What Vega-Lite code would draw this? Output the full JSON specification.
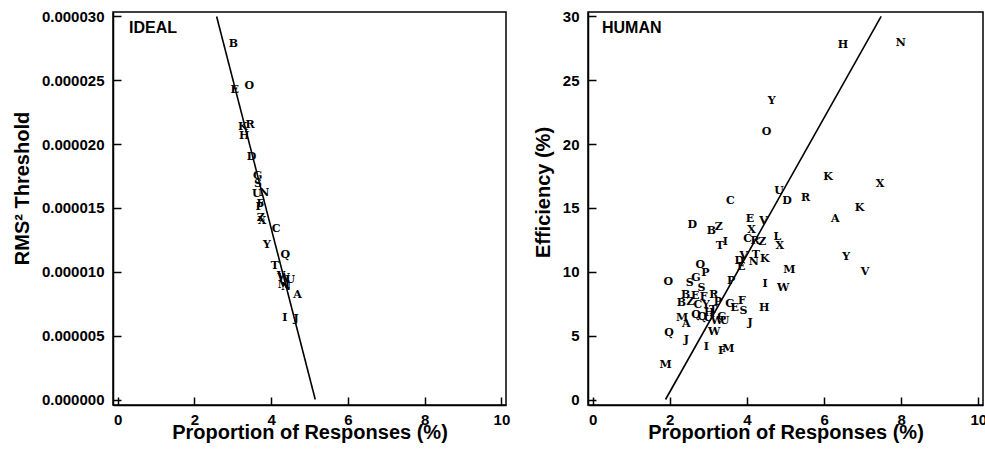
{
  "$schema": "https://vega.github.io/schema/vega-lite/v6.json",
  "background": "white",
  "padding": {"left": 11, "top": 8, "right": 0, "bottom": 5},
  "spacing": 21,
  "config": {
    "font": "Liberation Sans",
    "view": {"stroke": "black", "strokeWidth": 1.5},
    "axis": {
      "grid": false,
      "domainColor": "black",
      "domainWidth": 1.5,
      "tickColor": "black",
      "tickWidth": 1.5,
      "tickSize": -8,
      "labelFont": "Liberation Sans",
      "labelFontWeight": "bold",
      "labelFontSize": 15,
      "labelColor": "black",
      "labelPadding": 17,
      "labelFlush": false,
      "labelOverlap": false,
      "titleFont": "Liberation Sans",
      "titleFontSize": 20,
      "titleFontWeight": "bold",
      "titleColor": "black"
    },
    "axisX": {"titlePadding": -5, "labelPadding": 15},
    "axisY": {"titlePadding": 9}
  },
  "datasets": {
    "ideal": [
      {"letter": "B", "prop": 3.02, "rms": 0.00002785},
      {"letter": "O", "prop": 3.43, "rms": 0.00002459},
      {"letter": "E", "prop": 3.05, "rms": 0.00002425},
      {"letter": "R", "prop": 3.45, "rms": 0.00002151},
      {"letter": "K", "prop": 3.26, "rms": 0.00002133},
      {"letter": "H", "prop": 3.30, "rms": 0.00002067},
      {"letter": "D", "prop": 3.49, "rms": 0.00001897},
      {"letter": "G", "prop": 3.65, "rms": 0.00001754},
      {"letter": "S", "prop": 3.66, "rms": 0.00001689},
      {"letter": "U", "prop": 3.63, "rms": 0.00001611},
      {"letter": "N", "prop": 3.82, "rms": 0.00001616},
      {"letter": "F", "prop": 3.72, "rms": 0.00001532},
      {"letter": "P", "prop": 3.70, "rms": 0.00001511},
      {"letter": "Z", "prop": 3.73, "rms": 0.00001423},
      {"letter": "X", "prop": 3.76, "rms": 0.00001402},
      {"letter": "C", "prop": 4.13, "rms": 0.00001337},
      {"letter": "Y", "prop": 3.89, "rms": 0.00001214},
      {"letter": "Q", "prop": 4.37, "rms": 0.00001133},
      {"letter": "T", "prop": 4.10, "rms": 0.00001047},
      {"letter": "V", "prop": 4.26, "rms": 0.00000971},
      {"letter": "W", "prop": 4.32, "rms": 0.00000953},
      {"letter": "U", "prop": 4.50, "rms": 0.00000937},
      {"letter": "M", "prop": 4.33, "rms": 0.00000893},
      {"letter": "N", "prop": 4.39, "rms": 0.00000880},
      {"letter": "A", "prop": 4.69, "rms": 0.00000820},
      {"letter": "I", "prop": 4.36, "rms": 0.00000637},
      {"letter": "J", "prop": 4.65, "rms": 0.00000632}
    ],
    "idealLine": [
      {"prop": 2.58, "rms": 0.00003},
      {"prop": 5.15, "rms": 0.0}
    ],
    "human": [
      {"letter": "H", "prop": 6.49, "eff": 27.78},
      {"letter": "N", "prop": 7.99, "eff": 27.90},
      {"letter": "Y", "prop": 4.64, "eff": 23.39},
      {"letter": "O", "prop": 4.51, "eff": 20.93},
      {"letter": "K", "prop": 6.10, "eff": 17.41},
      {"letter": "X", "prop": 7.45, "eff": 16.86},
      {"letter": "U", "prop": 4.83, "eff": 16.34},
      {"letter": "R", "prop": 5.52, "eff": 15.76},
      {"letter": "D", "prop": 5.04, "eff": 15.51},
      {"letter": "C", "prop": 3.57, "eff": 15.56},
      {"letter": "K", "prop": 6.92, "eff": 14.98},
      {"letter": "A", "prop": 6.29, "eff": 14.17},
      {"letter": "E", "prop": 4.08, "eff": 14.10},
      {"letter": "V", "prop": 4.43, "eff": 13.96},
      {"letter": "D", "prop": 2.58, "eff": 13.63},
      {"letter": "Z", "prop": 3.27, "eff": 13.55},
      {"letter": "B", "prop": 3.08, "eff": 13.18},
      {"letter": "X", "prop": 4.12, "eff": 13.29},
      {"letter": "L", "prop": 4.79, "eff": 12.76},
      {"letter": "C", "prop": 4.02, "eff": 12.58},
      {"letter": "R", "prop": 4.21, "eff": 12.43},
      {"letter": "Z", "prop": 4.40, "eff": 12.32},
      {"letter": "I", "prop": 3.44, "eff": 12.30},
      {"letter": "T", "prop": 3.30, "eff": 12.06},
      {"letter": "X", "prop": 4.85, "eff": 12.06},
      {"letter": "V", "prop": 3.92, "eff": 11.24},
      {"letter": "T", "prop": 4.23, "eff": 11.28},
      {"letter": "Y", "prop": 6.57, "eff": 11.20},
      {"letter": "K", "prop": 4.46, "eff": 10.98},
      {"letter": "D", "prop": 3.80, "eff": 10.84},
      {"letter": "N", "prop": 4.18, "eff": 10.78},
      {"letter": "E", "prop": 3.85, "eff": 10.38},
      {"letter": "O", "prop": 2.79, "eff": 10.55},
      {"letter": "M", "prop": 5.10, "eff": 10.16},
      {"letter": "V", "prop": 7.06, "eff": 10.02},
      {"letter": "P", "prop": 2.92, "eff": 9.89},
      {"letter": "G", "prop": 2.68, "eff": 9.50},
      {"letter": "P", "prop": 3.59, "eff": 9.30},
      {"letter": "O", "prop": 1.96, "eff": 9.24},
      {"letter": "S", "prop": 2.52, "eff": 9.11},
      {"letter": "I", "prop": 4.47, "eff": 9.03},
      {"letter": "S", "prop": 2.82, "eff": 8.77},
      {"letter": "W", "prop": 4.94, "eff": 8.77},
      {"letter": "B", "prop": 2.41, "eff": 8.20},
      {"letter": "R", "prop": 3.14, "eff": 8.20},
      {"letter": "E", "prop": 2.66, "eff": 8.07},
      {"letter": "F", "prop": 2.88, "eff": 7.99},
      {"letter": "P", "prop": 3.25, "eff": 7.67},
      {"letter": "Z", "prop": 2.53, "eff": 7.67},
      {"letter": "B", "prop": 2.30, "eff": 7.54},
      {"letter": "C", "prop": 2.73, "eff": 7.42},
      {"letter": "Y", "prop": 2.94, "eff": 7.42},
      {"letter": "F", "prop": 3.87, "eff": 7.73},
      {"letter": "G", "prop": 3.56, "eff": 7.46},
      {"letter": "E", "prop": 3.68, "eff": 7.15},
      {"letter": "S", "prop": 3.91, "eff": 6.95},
      {"letter": "H", "prop": 4.45, "eff": 7.20},
      {"letter": "T", "prop": 3.12, "eff": 7.02},
      {"letter": "M", "prop": 2.32, "eff": 6.42},
      {"letter": "A", "prop": 2.43, "eff": 5.90},
      {"letter": "Q", "prop": 2.68, "eff": 6.58},
      {"letter": "Q", "prop": 2.84, "eff": 6.50},
      {"letter": "H", "prop": 3.02, "eff": 6.76},
      {"letter": "U", "prop": 2.99, "eff": 6.42},
      {"letter": "G", "prop": 3.35, "eff": 6.50},
      {"letter": "W", "prop": 3.22, "eff": 6.11},
      {"letter": "U", "prop": 3.42, "eff": 6.16},
      {"letter": "J", "prop": 4.08, "eff": 5.98},
      {"letter": "W", "prop": 3.15, "eff": 5.27},
      {"letter": "Q", "prop": 1.98, "eff": 5.19},
      {"letter": "J", "prop": 2.43, "eff": 4.67},
      {"letter": "I", "prop": 2.95, "eff": 4.10},
      {"letter": "F", "prop": 3.35, "eff": 3.81},
      {"letter": "M", "prop": 3.52, "eff": 3.94},
      {"letter": "M", "prop": 1.89, "eff": 2.72}
    ],
    "humanLine": [
      {"prop": 1.89, "eff": 0},
      {"prop": 7.48, "eff": 30}
    ]
  },
  "hconcat": [
    {
      "width": 393,
      "height": 393,
      "title": {"text": "IDEAL", "anchor": "start", "frame": "group", "orient": "top", "baseline": "top", "offset": -27, "dx": 16, "font": "Liberation Sans", "fontSize": 16, "fontWeight": "bold", "color": "black"},
      "encoding": {
        "x": {"field": "prop", "type": "quantitative", "scale": {"domain": [-0.12, 10.12], "nice": false, "zero": false}, "axis": {"values": [0, 2, 4, 6, 8, 10], "title": "Proportion of Responses (%)"}},
        "y": {"field": "rms", "type": "quantitative", "scale": {"domain": [-0.00000043, 0.00003035], "nice": false, "zero": false}, "axis": {"values": [0, 0.000005, 0.00001, 0.000015, 0.00002, 0.000025, 0.00003], "format": ".6f", "title": "RMS² Threshold", "titleY": 176}}
      },
      "layer": [
        {"data": {"name": "idealLine"}, "mark": {"type": "line", "color": "black", "strokeWidth": 1.6}},
        {"data": {"name": "ideal"}, "mark": {"type": "text", "font": "DejaVu Serif", "fontWeight": "bold", "fontSize": 11, "color": "black", "align": "center", "baseline": "middle"}, "encoding": {"text": {"field": "letter"}}}
      ]
    },
    {
      "width": 395,
      "height": 393,
      "title": {"text": "HUMAN", "anchor": "start", "frame": "group", "orient": "top", "baseline": "top", "offset": -27, "dx": 14, "font": "Liberation Sans", "fontSize": 16, "fontWeight": "bold", "color": "black"},
      "encoding": {
        "x": {"field": "prop", "type": "quantitative", "scale": {"domain": [-0.12, 10.12], "nice": false, "zero": false}, "axis": {"values": [0, 2, 4, 6, 8, 10], "title": "Proportion of Responses (%)"}},
        "y": {"field": "eff", "type": "quantitative", "scale": {"domain": [-0.43, 30.35], "nice": false, "zero": false}, "axis": {"values": [0, 5, 10, 15, 20, 25, 30], "format": "d", "title": "Efficiency (%)", "titleY": 180}}
      },
      "layer": [
        {"data": {"name": "humanLine"}, "mark": {"type": "line", "color": "black", "strokeWidth": 1.6}},
        {"data": {"name": "human"}, "mark": {"type": "text", "font": "DejaVu Serif", "fontWeight": "bold", "fontSize": 11, "color": "black", "align": "center", "baseline": "middle"}, "encoding": {"text": {"field": "letter"}}}
      ]
    }
  ]
}
